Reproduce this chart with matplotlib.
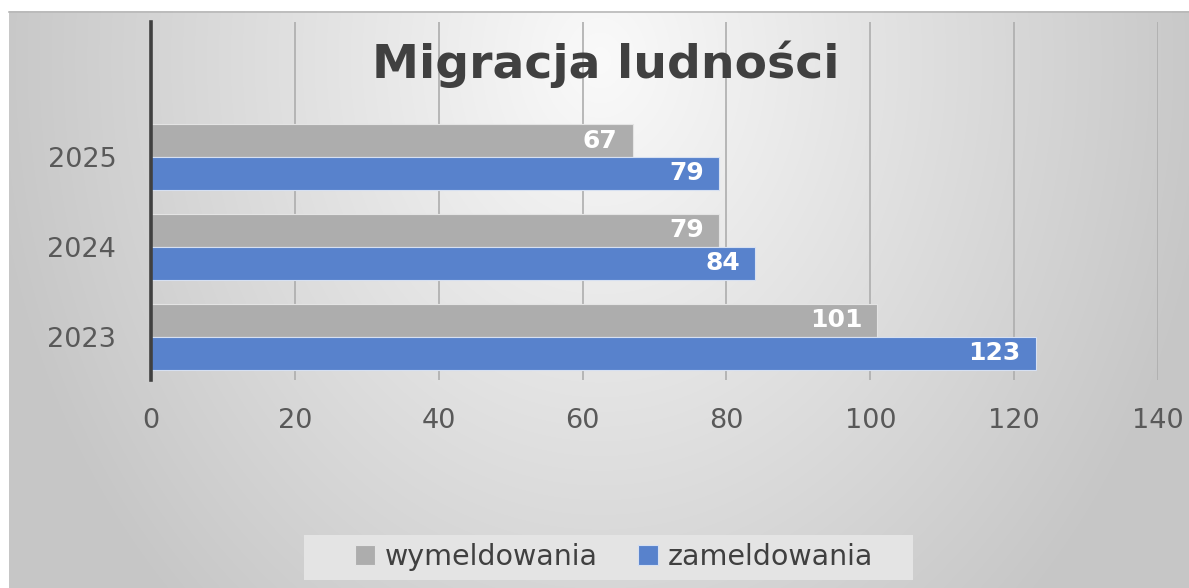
import matplotlib.pyplot as plt
from matplotlib.patches import Rectangle
import numpy as np

years = ["2023", "2024", "2025"]
wymeldowania = [101, 79, 67]
zameldowania = [123, 84, 79]
series_labels = ["wymeldowania", "zameldowania"]
x_ticks = [0, 20, 40, 60, 80, 100, 120, 140]

W, H = 1189, 588
plt.rcParams['font.family'] = ['DejaVu Sans']

fig = plt.figure(figsize=(W / 100, H / 100), dpi=100)
fig.patch.set_facecolor('white')

# radial gray background, lightest near the top centre
bg = fig.add_axes([0, 0, 1, 1], zorder=-5)
bg.set_xlim(0, W)
bg.set_ylim(H, 0)
bg.axis('off')
yy, xx = np.mgrid[11:H, 9:W]
r = np.sqrt(((xx - 600) / 610) ** 2 + ((yy - 60) / 750) ** 2)
shade = 0.98 - 0.2 * np.clip(r, 0, 1)
img = np.dstack([shade, shade, shade])
bg.imshow(img, extent=(9, W, H, 11), aspect='auto', interpolation='bilinear')
bg.plot([9, W], [11.5, 11.5], color='#b8b8b8', lw=1.2)
# legend box
bg.add_patch(Rectangle((304, 535), 609, 45, facecolor='#e4e4e4',
                       edgecolor='none', zorder=2))

ax = fig.add_axes([151 / W, 1 - 380 / H, (1158 - 151) / W, (380 - 22) / H])
ax.patch.set_alpha(0)

pos = np.arange(len(years))
h = 0.365
gray = '#adadad'
blue = '#5882cc'
b1 = ax.barh(pos + h / 2, wymeldowania, height=h, color=gray,
             edgecolor='#e4e4e4', linewidth=0.8, label=series_labels[0], zorder=3)
b2 = ax.barh(pos - h / 2, zameldowania, height=h, color=blue,
             edgecolor='#d6e0f2', linewidth=0.8, label=series_labels[1], zorder=3)

for bars, vals in ((b1, wymeldowania), (b2, zameldowania)):
    for bar, v in zip(bars, vals):
        ax.annotate(str(v), xy=(v, bar.get_y() + bar.get_height() / 2),
                    xytext=(-11, 0), textcoords='offset points',
                    ha='right', va='center', color='white',
                    fontsize=18, fontweight='bold', zorder=4)

ax.set_xlim(0, 140)
ax.set_ylim(-0.48, 3.5)
ax.set_xticks(x_ticks)
ax.set_xticklabels([str(t) for t in x_ticks])
ax.set_yticks(pos)
ax.set_yticklabels(years)
ax.tick_params(axis='x', length=0, pad=20, labelsize=19.5, colors='#595959')
ax.tick_params(axis='y', length=0, pad=25, labelsize=19.5, colors='#595959')

ax.grid(axis='x', color='#adadad', linewidth=1.2, zorder=1)
ax.set_axisbelow(True)
for s in ['top', 'right', 'bottom']:
    ax.spines[s].set_visible(False)
ax.spines['left'].set_color('#404040')
ax.spines['left'].set_linewidth(2.6)
ax.spines['left'].set_zorder(5)

fig.text(372 / W, 1 - 78 / H, "Migracja ludności", ha='left', va='baseline',
         fontsize=34, fontweight='bold', color='#404040')

leg = fig.legend(handles=[b1, b2], labels=series_labels, loc='center',
                 bbox_to_anchor=(614 / W, 1 - 557 / H), ncol=2, frameon=False,
                 fontsize=20.5, handlelength=0.7, handleheight=0.7,
                 handletextpad=0.35, columnspacing=1.4)
for t in leg.get_texts():
    t.set_color('#404040')

plt.savefig("out.png", dpi=100)
plt.close()
